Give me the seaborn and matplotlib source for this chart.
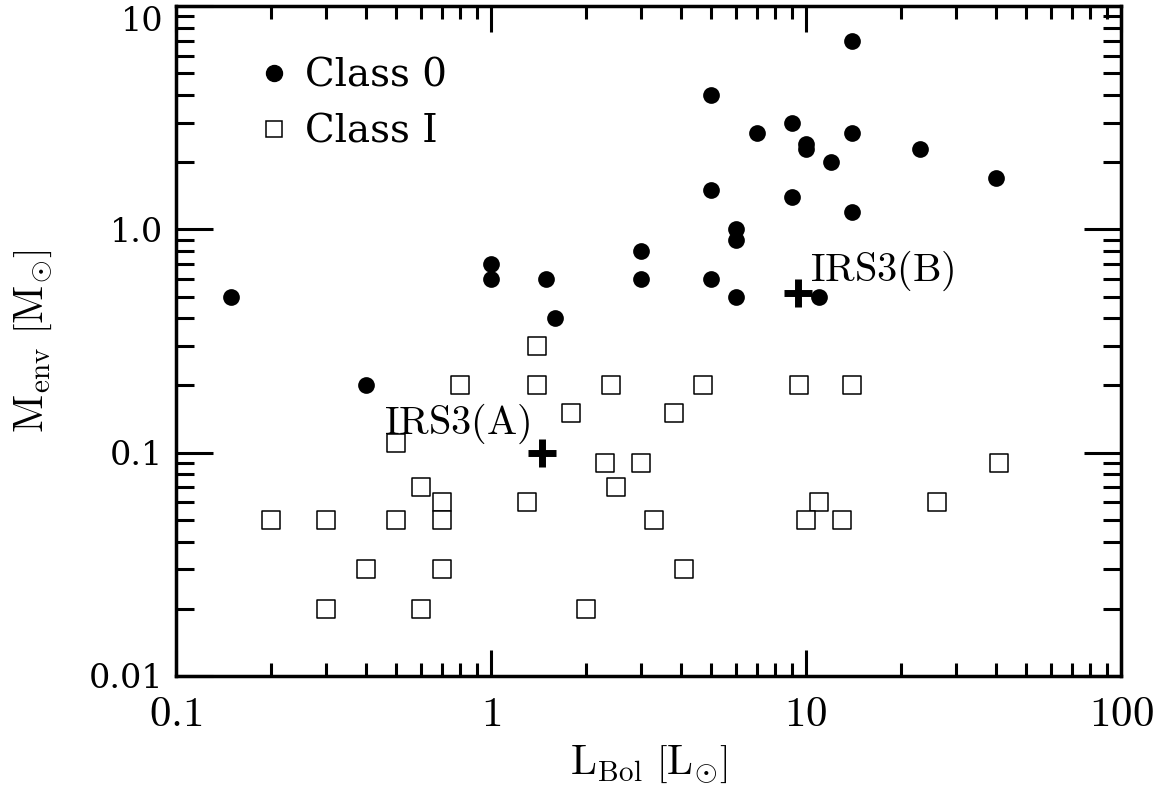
import matplotlib
matplotlib.use("Agg")
import matplotlib.pyplot as plt
import seaborn as sns
from matplotlib.ticker import FixedLocator, FixedFormatter, LogLocator, NullFormatter
from matplotlib.lines import Line2D

# ---------------- data ----------------
class0_L = [0.15, 0.4, 1.0, 1.0, 1.5, 1.6, 3.0, 3.0, 5.0, 5.0, 5.0, 6.0, 6.0, 6.0,
            7.0, 9.0, 9.0, 10.0, 10.0, 11.0, 12.0, 14.0, 14.0, 14.0, 23.0, 40.0]
class0_M = [0.5, 0.2, 0.7, 0.6, 0.6, 0.4, 0.8, 0.6, 4.0, 1.5, 0.6, 1.0, 0.9, 0.5,
            2.7, 3.0, 1.4, 2.4, 2.3, 0.5, 2.0, 7.0, 2.7, 1.2, 2.3, 1.7]

classI_L = [1.4, 0.8, 1.4, 2.4, 1.8, 3.8, 0.5, 2.3, 3.0, 2.5, 0.6, 0.7, 1.3, 0.2,
            0.3, 0.5, 0.7, 3.3, 0.4, 0.7, 0.3, 0.6, 2.0, 4.7, 9.5, 14.0, 11.0,
            26.0, 41.0, 10.0, 13.0, 4.1]
classI_M = [0.3, 0.2, 0.2, 0.2, 0.15, 0.15, 0.11, 0.09, 0.09, 0.07, 0.07, 0.06, 0.06, 0.05,
            0.05, 0.05, 0.05, 0.05, 0.03, 0.03, 0.02, 0.02, 0.02, 0.2, 0.2, 0.2, 0.06,
            0.06, 0.09, 0.05, 0.05, 0.03]

irs3_names = ["IRS3(A)", "IRS3(B)"]
irs3_L = [1.45, 9.4]
irs3_M = [0.10, 0.52]

legend_labels = ["Class 0", "Class I"]
x_ticks = [0.1, 1, 10, 100]
x_ticklabels = ["0.1", "1", "10", "100"]
y_ticks = [0.01, 0.1, 1.0, 10]
y_ticklabels = ["0.01", "0.1", "1.0", "10"]

# ---------------- style ----------------
sns.set_style("white")
plt.rcParams["font.family"] = ["DejaVu Serif", "DejaVu Sans"]
plt.rcParams["mathtext.fontset"] = "cm"
plt.rcParams["axes.linewidth"] = 2.5
plt.rcParams["axes.edgecolor"] = "black"
plt.rcParams["text.color"] = "black"
plt.rcParams["axes.labelcolor"] = "black"
plt.rcParams["xtick.color"] = "black"
plt.rcParams["ytick.color"] = "black"

fig = plt.figure(figsize=(11.67, 7.97), dpi=100)
ax = fig.add_axes([176 / 1167, 1 - 676 / 797, 945 / 1167, 670 / 797])
ax.set_xscale("log")
ax.set_yscale("log")

sns.scatterplot(x=class0_L, y=class0_M, marker="o", s=145, color="black",
                edgecolor="black", linewidth=0, ax=ax, legend=False, zorder=3)
sns.scatterplot(x=classI_L, y=classI_M, marker="s", s=150, color="white",
                edgecolor="black", linewidth=1.1, ax=ax, legend=False, zorder=3)
sns.scatterplot(x=irs3_L, y=irs3_M, marker="+", s=420, color="black",
                edgecolor="black", linewidth=5, ax=ax, legend=False, zorder=4)

offsets = [(-61, 21), (61, 16)]
for name, L, M, off in zip(irs3_names, irs3_L, irs3_M, offsets):
    ax.annotate(r"$\mathrm{" + name + "}$", (L, M), xytext=off,
                textcoords="offset points", ha="center", va="center",
                fontsize=29, zorder=5)

ax.set_xlim(0.1, 100)
ax.set_ylim(0.01, 10)

ax.xaxis.set_major_locator(FixedLocator(x_ticks))
ax.xaxis.set_major_formatter(FixedFormatter([r"$" + t + "$" for t in x_ticklabels]))
ax.xaxis.set_minor_locator(LogLocator(base=10, subs=range(2, 10)))
ax.xaxis.set_minor_formatter(NullFormatter())
ax.yaxis.set_major_locator(FixedLocator(y_ticks))
ax.yaxis.set_major_formatter(FixedFormatter(y_ticklabels))
ax.yaxis.set_minor_locator(LogLocator(base=10, subs=range(2, 10)))
ax.yaxis.set_minor_formatter(NullFormatter())

ax.tick_params(axis="x", which="major", direction="in", length=19, width=2.2,
               top=True, bottom=True, labelsize=31, pad=12)
ax.tick_params(axis="x", which="minor", direction="in", length=9.5, width=2.2,
               top=True, bottom=True)
ax.tick_params(axis="y", which="major", direction="in", length=26.5, width=2.2,
               left=True, right=True, labelsize=24, pad=9)
ax.tick_params(axis="y", which="minor", direction="in", length=13, width=2.2,
               left=True, right=True)

ax.set_xlabel(r"$\mathrm{L_{Bol}}\ \left[\mathrm{L_{\odot}}\right]$", fontsize=30, labelpad=6)
ax.set_ylabel(r"$\mathrm{M_{env}}\ \left[\mathrm{M_{\odot}}\right]$", fontsize=30, labelpad=25)

fig.canvas.draw()
for t in ax.yaxis.get_major_ticks():
    if t.get_loc() == 10:
        t.label1.set_va("top")

handles = [
    Line2D([], [], ls="none", marker="o", markersize=11.5, markerfacecolor="black",
           markeredgecolor="black"),
    Line2D([], [], ls="none", marker="s", markersize=12, markerfacecolor="white",
           markeredgecolor="black", markeredgewidth=1.1),
]
ax.legend(handles, legend_labels, loc="upper left", bbox_to_anchor=(0.05, 0.975),
          frameon=False, fontsize=28, handlelength=0.8, handletextpad=0.4,
          labelspacing=0.48)

fig.savefig("out.png", dpi=100)
